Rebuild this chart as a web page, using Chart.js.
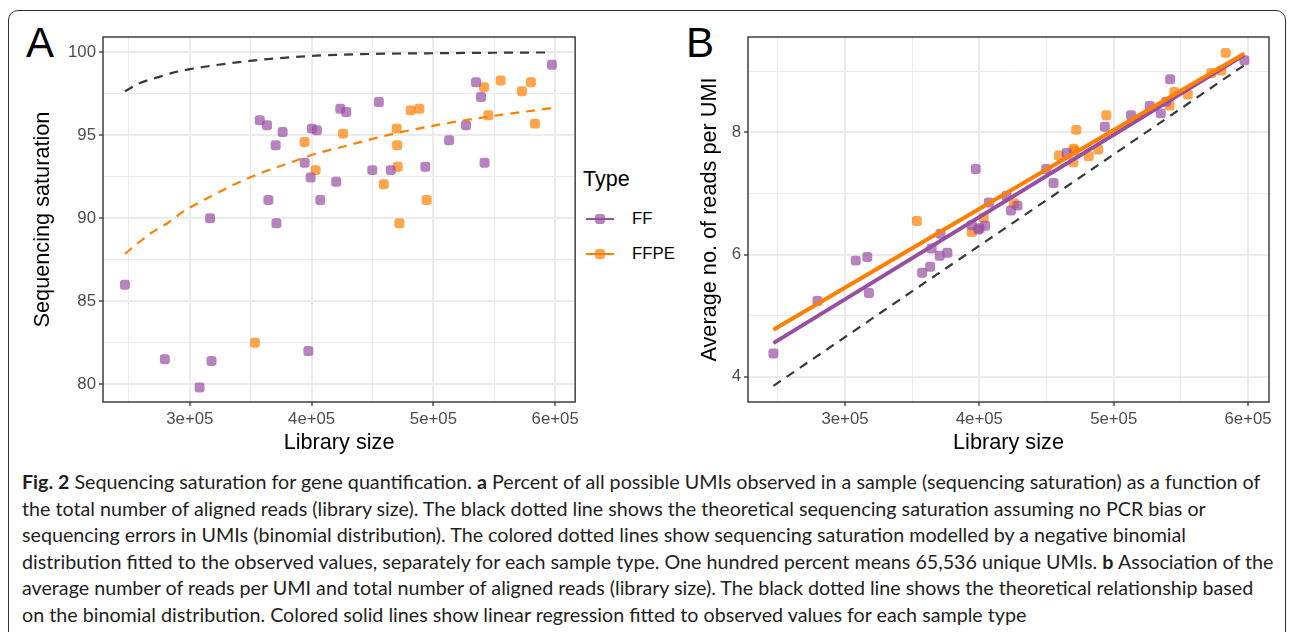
<!DOCTYPE html>
<html>
<head>
<meta charset="utf-8">
<script src="https://cdn.jsdelivr.net/npm/chart.js@4.4.1/dist/chart.umd.min.js"></script>
<style>
  body { margin: 0; width: 1292px; height: 632px; background: #fff; overflow: hidden; position: relative;
         font-family: "Liberation Sans", Arial, sans-serif; }
  .frame { position: absolute; left: 8px; top: 10px; width: 1278px; height: 660px; border: 1.5px solid #333;
           border-radius: 10px; box-sizing: border-box; }
  .panel { position: absolute; }
  .tag { position: absolute; font-size: 42px; line-height: 1; color: #000; }
  .legend-title { position: absolute; left: 583px; top: 166px; font-size: 21.5px; line-height: 26px; color: #000; }
  .key { position: absolute; left: 586px; width: 28px; height: 2px; }
  .key i { position: absolute; left: 9px; top: -4px; width: 10px; height: 10px; border-radius: 3px; }
  .key-label { position: absolute; left: 632px; font-size: 16.8px; line-height: 20px; color: #000; }
  .caption { position: absolute; left: 22px; top: 469px; color: #231f20; font-family: Lato, "Open Sans", sans-serif;
             font-size: 17px; line-height: 26.5px; white-space: nowrap; }
  .caption div { height: 26.5px; }
</style>
</head>
<body>
<div class="frame"></div>

<div class="tag" style="left:26px;top:22px">A</div>
<div class="tag" style="left:686px;top:22px">B</div>

<div class="panel" style="left:20px;top:20px"><canvas id="chart-a" width="562" height="442"></canvas></div>
<div class="panel" style="left:690px;top:20px"><canvas id="chart-b" width="585" height="442"></canvas></div>

<div class="legend-title">Type</div>
<div class="key" style="top:218px;background:#984ea3"><i style="background:rgba(152,78,163,0.7)"></i></div>
<div class="key-label" style="top:209px">FF</div>
<div class="key" style="top:253px;background:#ff7f00"><i style="background:rgba(255,127,0,0.7)"></i></div>
<div class="key-label" style="top:244px">FFPE</div>

<div class="caption" id="caption">
  <div id="cap-first"><b>Fig. 2</b> Sequencing saturation for gene quantification. <b>a</b> Percent of all possible UMIs observed in a sample (sequencing saturation) as a function of</div>
  <div>the total number of aligned reads (library size). The black dotted line shows the theoretical sequencing saturation assuming no PCR bias or</div>
  <div>sequencing errors in UMIs (binomial distribution). The colored dotted lines show sequencing saturation modelled by a negative binomial</div>
  <div>distribution fitted to the observed values, separately for each sample type. One hundred percent means 65,536 unique UMIs. <b>b</b> Association of the</div>
  <div>average number of reads per UMI and total number of aligned reads (library size). The black dotted line shows the theoretical relationship based</div>
  <div>on the binomial distribution. Colored solid lines show linear regression fitted to observed values for each sample type</div>
</div>

<script>
// Samples (library size shared by both panels)
const ffSize = [246700, 279500, 308000, 316600, 317800, 357400, 363400, 364500, 370500, 371100,
  376200, 394300, 397300, 399200, 400200, 404300, 407100, 420200, 423500, 428400,
  449800, 455200, 465000, 493400, 512900, 526800, 535000, 539100, 542000, 597300];
const ffSaturation = [86.0, 81.5, 79.8, 90.0, 81.4, 95.9, 95.6, 91.1, 94.4, 89.7,
  95.2, 93.35, 82.0, 92.45, 95.4, 95.3, 91.1, 92.2, 96.6, 96.4,
  92.9, 97.0, 92.9, 93.1, 94.7, 95.6, 98.2, 97.3, 93.35, 99.25];
const ffReadsPerUmi = [4.38, 5.24, 5.90, 5.96, 5.37, 5.70, 5.80, 6.10, 5.98, 6.34,
  6.03, 6.48, 7.40, 6.41, 6.43, 6.47, 6.85, 6.96, 6.72, 6.80,
  7.40, 7.17, 7.66, 8.09, 8.28, 8.43, 8.31, 8.50, 8.87, 9.18];

const ffpeSize = [353500, 394300, 403300, 425800, 459300, 469900, 470200, 470700, 472100,
  481400, 488500, 494500, 541600, 545100, 555200, 572700, 580100, 583400];
const ffpeSaturation = [82.5, 94.6, 92.9, 95.1, 92.05, 95.4, 94.4, 93.1, 89.7,
  96.5, 96.6, 91.1, 97.9, 96.2, 98.3, 97.65, 98.2, 95.7];
const ffpeReadsPerUmi = [6.55, 6.37, 6.60, 6.84, 7.62, 7.51, 7.73, 7.70, 8.04,
  7.61, 7.72, 8.28, 8.44, 8.66, 8.62, 8.97, 9.01, 9.30];

// Model curves, panel A
const binomSize = [246700, 258500, 272700, 286300, 300000, 349000, 400000, 450000, 497000, 550000, 597300];
const binomSaturation = [97.65, 98.13, 98.47, 98.77, 98.98, 99.48, 99.78, 99.9, 99.94, 99.97, 99.99];
const nbSize = [246700, 259000, 270000, 282200, 294500, 305500, 321900, 346500, 357400, 390200, 400000, 425700, 469000, 527000, 597300];
const nbSaturation = [87.85, 88.6, 89.19, 89.73, 90.4, 90.86, 91.5, 92.37, 92.7, 93.55, 93.81, 94.31, 95.12, 95.92, 96.64];

// Fits, panel B
const fitSize = [246700, 597300];
const ffFit = [4.55, 9.27];
const ffpeFit = [4.77, 9.29];
const binomReadsSize = [246700, 376900, 468800, 597300];
const binomReads = [3.85, 5.80, 7.17, 9.10];

// Axes
const sizeTicks = [300000, 400000, 500000, 600000];
const sizeTickLabels = ['3e+05', '4e+05', '5e+05', '6e+05'];
const sizeMinor = [250000, 350000, 450000, 550000];
const satTicks = [80, 85, 90, 95, 100];
const satMinor = [82.5, 87.5, 92.5, 97.5];
const readsTicks = [4, 6, 8];
const readsMinor = [5, 7, 9];

const PURPLE = '#984ea3';
const ORANGE = '#ff7f00';
const PURPLE_PT = 'rgba(152, 78, 163, 0.7)';
const ORANGE_PT = 'rgba(255, 127, 0, 0.7)';
const DASH = [9, 7];

Chart.defaults.font.family = '"Liberation Sans", Arial, sans-serif';

const xy = (xs, ys) => xs.map((x, i) => ({ x, y: ys[i] }));
const isIn = (list, v) => list.some((t) => Math.abs(t - v) < 1e-9);

// ggplot-like frame round the panel
const panelBorder = {
  id: 'panelBorder',
  afterDatasetsDraw(chart) {
    const { ctx, chartArea: a } = chart;
    ctx.save();
    ctx.strokeStyle = '#333333';
    ctx.lineWidth = 1.4;
    ctx.strokeRect(a.left, a.top, a.right - a.left, a.bottom - a.top);
    ctx.restore();
  },
};

function makeScale({ min, max, major, minor, labels, title, width, height, titlePad }) {
  const all = [...major, ...minor].sort((a, b) => a - b);
  return {
    type: 'linear',
    min,
    max,
    afterBuildTicks: (s) => { s.ticks = all.map((v) => ({ value: v })); },
    afterFit: (s) => {
      if (width) s.width = width;
      if (height) s.height = height;
    },
    ticks: {
      autoSkip: false,
      maxRotation: 0,
      padding: 3,
      color: '#4d4d4d',
      font: { size: 16.8 },
      callback: (v) => {
        const i = major.findIndex((t) => Math.abs(t - v) < 1e-9);
        return i < 0 ? '' : labels[i];
      },
    },
    grid: {
      color: '#ebebeb',
      lineWidth: (c) => (isIn(major, c.tick.value) ? 2 : 1),
      tickColor: (c) => (isIn(major, c.tick.value) ? '#333333' : 'rgba(0,0,0,0)'),
      tickLength: 4,
      tickWidth: 1.3,
    },
    border: { display: false },
    title: { display: true, text: title, color: '#000', font: { size: 21.7 }, padding: titlePad },
  };
}

const points = (label, data, color) => ({
  label, data, backgroundColor: color, borderWidth: 0,
  pointStyle: 'rectRounded', pointRadius: 5.8, pointHoverRadius: 5.8,
});
const curve = (label, data, color, width, dash) => ({
  label, data, showLine: true, borderColor: color, borderWidth: width, borderDash: dash || [],
  pointRadius: 0, fill: false, cubicInterpolationMode: 'monotone',
});

const baseOptions = (scales, padding) => ({
  responsive: false,
  animation: false,
  devicePixelRatio: 1,
  events: [],
  layout: { padding },
  plugins: { legend: { display: false }, tooltip: { enabled: false } },
  scales,
});

new Chart(document.getElementById('chart-a'), {
  type: 'scatter',
  data: {
    datasets: [
      curve('Binomial', xy(binomSize, binomSaturation), '#3a3a3a', 2.2, DASH),
      curve('FFPE fit', xy(nbSize, nbSaturation), ORANGE, 2.2, DASH),
      points('FF', xy(ffSize, ffSaturation), PURPLE_PT),
      points('FFPE', xy(ffpeSize, ffpeSaturation), ORANGE_PT),
    ],
  },
  options: baseOptions({
    x: makeScale({ min: 228700, max: 616400, major: sizeTicks, minor: sizeMinor, labels: sizeTickLabels,
      title: 'Library size', height: 60, titlePad: { top: 0, bottom: 6 } }),
    y: makeScale({ min: 78.93, max: 100.92, major: satTicks, minor: satMinor, labels: satTicks.map(String),
      title: 'Sequencing saturation', width: 83, titlePad: { top: 10, bottom: 0 } }),
  }, { top: 17, right: 6, left: 0, bottom: 0 }),
  plugins: [panelBorder],
});

new Chart(document.getElementById('chart-b'), {
  type: 'scatter',
  data: {
    datasets: [
      curve('FFPE fit', xy(fitSize, ffpeFit), ORANGE, 4),
      curve('FF fit', xy(fitSize, ffFit), PURPLE, 4),
      curve('Binomial', xy(binomReadsSize, binomReads), '#3a3a3a', 2.2, DASH),
      points('FF', xy(ffSize, ffReadsPerUmi), PURPLE_PT),
      points('FFPE', xy(ffpeSize, ffpeReadsPerUmi), ORANGE_PT),
    ],
  },
  options: baseOptions({
    x: makeScale({ min: 227800, max: 615600, major: sizeTicks, minor: sizeMinor, labels: sizeTickLabels,
      title: 'Library size', height: 60, titlePad: { top: 0, bottom: 6 } }),
    y: makeScale({ min: 3.586, max: 9.56, major: readsTicks, minor: readsMinor, labels: readsTicks.map(String),
      title: 'Average no. of reads per UMI', width: 58, titlePad: { top: 7, bottom: 0 } }),
  }, { top: 17, right: 6, left: 0, bottom: 0 }),
  plugins: [panelBorder],
});

// Fit the caption to the figure width (first line sets the size)
const cap = document.getElementById('caption');
const first = document.getElementById('cap-first');
const w = first.scrollWidth || first.getBoundingClientRect().width;
if (w > 0) cap.style.fontSize = (17 * 1252 / w).toFixed(2) + 'px';
</script>
</body>
</html>
